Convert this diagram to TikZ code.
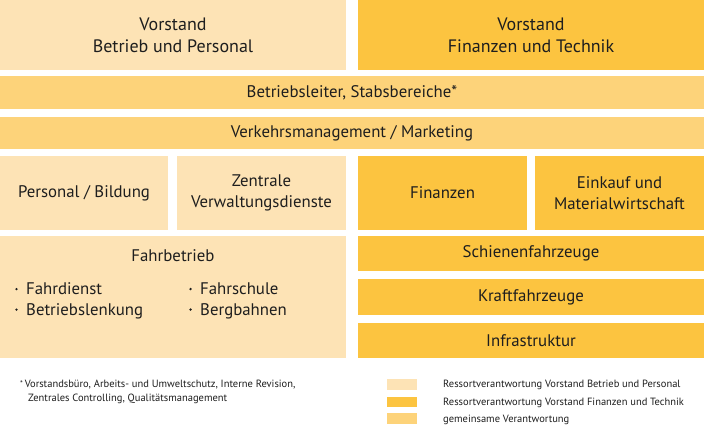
\documentclass[tikz,border=0pt]{standalone}
\usepackage{fontspec}
\setmainfont{PT Sans}
\definecolor{light}{RGB}{253,227,181}
\definecolor{dark}{RGB}{252,196,64}
\definecolor{mid}{RGB}{253,211,122}
\definecolor{txt}{RGB}{30,30,30}
\newcommand{\bul}{\makebox[11pt][l]{\raisebox{4.5pt}{\tikz\fill[txt] (0,0) circle (1.3pt);}}}
\tikzset{
  box/.style={inner sep=0pt, outer sep=0pt, align=center, text=txt},
  big/.style={font=\fontsize{18}{22}\selectfont},
  norm/.style={font=\fontsize{16.8}{21.5}\selectfont},
  small/.style={font=\fontsize{10.5}{13.5}\selectfont, text=txt, inner sep=0pt, anchor=west, align=left},
}
\newcommand{\bx}[7]{% name, fill, x1, y1, x2, y2, style+text
  \node[box, fill=#2, minimum width={#5-#3}, minimum height={#6-#4}, #7] (#1) at ({(#3+#5)/2},{-(#4+#6)/2})}
\begin{document}
\begin{tikzpicture}[x=1pt,y=1pt]
\useasboundingbox (0,0) rectangle (704,-427);
\fill[white] (0,0) rectangle (704,-427);
\bx{vbp}{light}{0}{0}{346}{70}{big} {Vorstand\\Betrieb und Personal};
\bx{vft}{dark}{358}{0}{704}{70}{big} {Vorstand\\Finanzen und Technik};
\bx{bl}{mid}{0}{76}{704}{109}{norm} {Betriebsleiter, Stabsbereiche*};
\bx{vm}{mid}{0}{117}{704}{149}{norm} {Verkehrsmanagement / Marketing};
\bx{pb}{light}{0}{156}{168}{230}{norm} {Personal / Bildung};
\bx{zv}{light}{177}{156}{346}{230}{norm} {Zentrale\\Verwaltungsdienste};
\bx{fi}{dark}{358}{156}{527}{230}{norm} {Finanzen};
\bx{ek}{dark}{535}{156}{704}{230}{norm} {Einkauf und\\Materialwirtschaft};
\bx{fb}{light}{0}{236}{346}{358}{norm} {};
\bx{sf}{dark}{358}{236}{704}{271}{norm} {Schienenfahrzeuge};
\bx{kf}{dark}{358}{279}{704}{315}{norm} {Kraftfahrzeuge};
\bx{in}{dark}{358}{323}{704}{358}{norm} {Infrastruktur};
\node[norm, text=txt, inner sep=0pt] (fbt) at (173,-256) {Fahrbetrieb};
\node[norm, text=txt, inner sep=0pt, anchor=west, align=left, font=\fontsize{16.8}{20.5}\selectfont] (fbl) at (15,-301) {\bul Fahrdienst\\\bul Betriebslenkung};
\node[norm, text=txt, inner sep=0pt, anchor=west, align=left, font=\fontsize{16.8}{20.5}\selectfont] (fbr) at (189,-301) {\bul Fahrschule\\\bul Bergbahnen};
% footnote
\node[small] (fn) at (20,-392) {\raisebox{1pt}{\footnotesize *}\,Vorstandsbüro, Arbeits- und Umweltschutz, Interne Revision,\\\hspace*{8pt}Zentrales Controlling, Qualitätsmanagement};
% legend
\fill[light] (387,-379) rectangle (417,-390);
\fill[dark] (387,-397) rectangle (417,-407);
\fill[mid] (387,-413) rectangle (417,-424);
\node[small] (l1) at (443,-385) {Ressortverantwortung Vorstand Betrieb und Personal};
\node[small] (l2) at (443,-403) {Ressortverantwortung Vorstand Finanzen und Technik};
\node[small] (l3) at (443,-420) {gemeinsame Verantwortung};
\end{tikzpicture}
\end{document}
